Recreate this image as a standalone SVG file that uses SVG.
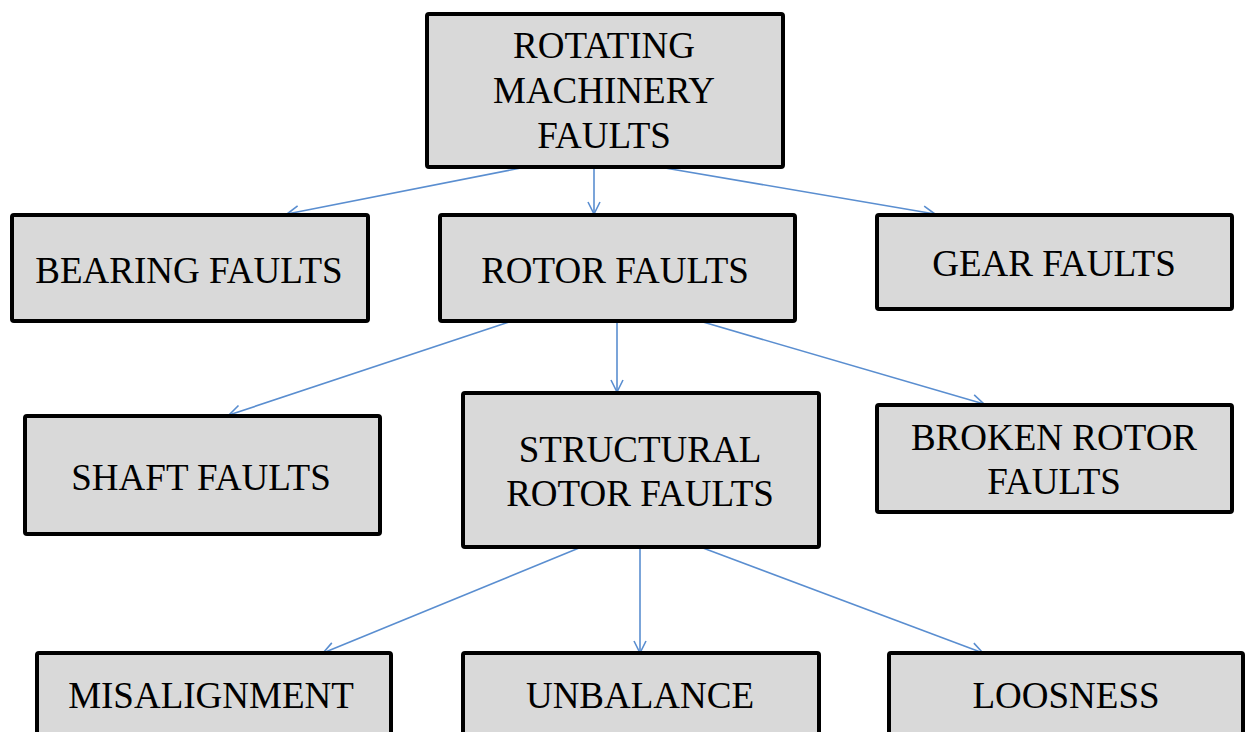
<svg xmlns="http://www.w3.org/2000/svg" width="1245" height="732" viewBox="0 0 1245 732">
<style>
.box{fill:#d9d9d9;stroke:#000;stroke-width:4}
.t{font-family:"Liberation Serif","Times New Roman",serif;font-size:37px;fill:#000;text-anchor:middle}
.c{stroke:#5a8ed0;stroke-width:1.6;fill:none}
</style>
<defs>
<marker id="ah" markerWidth="14" markerHeight="14" refX="13" refY="7" orient="auto" markerUnits="userSpaceOnUse">
<path d="M1,1 L13,7 L1,13" fill="none" stroke="#5a8ed0" stroke-width="1.6"/>
</marker>
</defs>
<rect width="1245" height="732" fill="#fff"/>
<g id="connectors">
<line class="c" x1="521" y1="168" x2="287" y2="214" marker-end="url(#ah)"/>
<line class="c" x1="594" y1="168" x2="594" y2="214" marker-end="url(#ah)"/>
<line class="c" x1="665" y1="168" x2="935" y2="214" marker-end="url(#ah)"/>
<line class="c" x1="509" y1="322" x2="229" y2="415" marker-end="url(#ah)"/>
<line class="c" x1="617" y1="322" x2="617" y2="392" marker-end="url(#ah)"/>
<line class="c" x1="703" y1="322" x2="984" y2="404" marker-end="url(#ah)"/>
<line class="c" x1="579" y1="548" x2="323" y2="653" marker-end="url(#ah)"/>
<line class="c" x1="640" y1="548" x2="640" y2="653" marker-end="url(#ah)"/>
<line class="c" x1="703" y1="548" x2="983" y2="653" marker-end="url(#ah)"/>
</g>
<g id="root">
<rect class="box" x="427" y="14" width="356" height="153" rx="2"/>
<text class="t" x="604" y="58">ROTATING</text>
<text class="t" x="604" y="103">MACHINERY</text>
<text class="t" x="604" y="148">FAULTS</text>
</g>
<g id="bearing">
<rect class="box" x="12" y="215" width="356" height="106" rx="2"/>
<text class="t" x="189" y="283">BEARING FAULTS</text>
</g>
<g id="rotor">
<rect class="box" x="440" y="215" width="355" height="106" rx="2"/>
<text class="t" x="615" y="283">ROTOR FAULTS</text>
</g>
<g id="gear">
<rect class="box" x="877" y="215" width="355" height="94" rx="2"/>
<text class="t" x="1054" y="276">GEAR FAULTS</text>
</g>
<g id="shaft">
<rect class="box" x="25" y="416" width="355" height="118" rx="2"/>
<text class="t" x="201" y="490">SHAFT FAULTS</text>
</g>
<g id="structural">
<rect class="box" x="463" y="393" width="356" height="154" rx="2"/>
<text class="t" x="640" y="462">STRUCTURAL</text>
<text class="t" x="640" y="506">ROTOR FAULTS</text>
</g>
<g id="broken">
<rect class="box" x="877" y="405" width="355" height="107" rx="2"/>
<text class="t" x="1054" y="450">BROKEN ROTOR</text>
<text class="t" x="1054" y="494">FAULTS</text>
</g>
<g id="misalignment">
<rect class="box" x="37" y="653" width="354" height="100" rx="2"/>
<text class="t" x="211" y="708">MISALIGNMENT</text>
</g>
<g id="unbalance">
<rect class="box" x="463" y="653" width="356" height="100" rx="2"/>
<text class="t" x="640" y="708">UNBALANCE</text>
</g>
<g id="looseness">
<rect class="box" x="889" y="653" width="354" height="100" rx="2"/>
<text class="t" x="1066" y="708">LOOSNESS</text>
</g>
</svg>
